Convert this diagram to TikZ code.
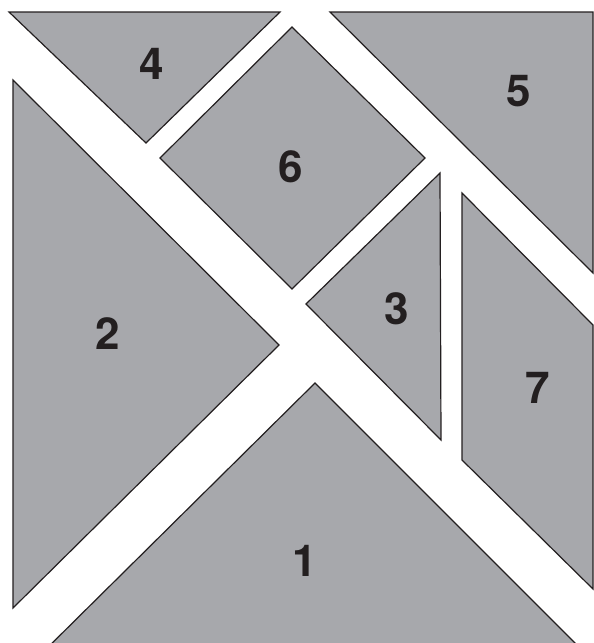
\documentclass[tikz,border=0pt]{standalone}
\usepackage{fontspec}
\setmainfont{TeX Gyre Heros}
\usepackage{xcolor}
\definecolor{piecegray}{RGB}{167,168,172}
\definecolor{inkdark}{RGB}{35,31,32}

\begin{document}
\begin{tikzpicture}[
    x=1pt, y=-1pt,
    piece/.style={draw=inkdark, fill=piecegray, line width=1.2pt, line join=miter},
    lbl/.style={text=inkdark, inner sep=0pt, font=\fontsize{44}{44}\selectfont\bfseries}
]

%% ===== FRAME =====
\clip (0,0) rectangle (594,643);

%% ===== PIECES =====
\draw[piece] (9,12) -- (280,12) -- (146,143) -- cycle;            % 4
\draw[piece] (330,12) -- (593,12) -- (593,273) -- cycle;          % 5
\draw[piece] (292,27) -- (425,158) -- (292,289) -- (160,158) -- cycle; % 6
\draw[piece] (13,80) -- (279,345) -- (13,608) -- cycle;           % 2
\draw[piece] (440,173) -- (441,440) -- (306,304) -- cycle;        % 3
\draw[piece] (462,193) -- (593,325) -- (593,589) -- (462,460) -- cycle; % 7
\draw[piece] (315,383) -- (597,665) -- (30,665) -- cycle;         % 1

%% ===== LABELS =====
\node[lbl] (n4) at (152,64)  {4};
\node[lbl] (n5) at (519,91)  {5};
\node[lbl] (n6) at (291,167) {6};
\node[lbl] (n2) at (108,334) {2};
\node[lbl] (n3) at (397,309) {3};
\node[lbl] (n7) at (538,388) {7};
\node[lbl] (n1) at (305,561) {1};

\end{tikzpicture}
\end{document}
